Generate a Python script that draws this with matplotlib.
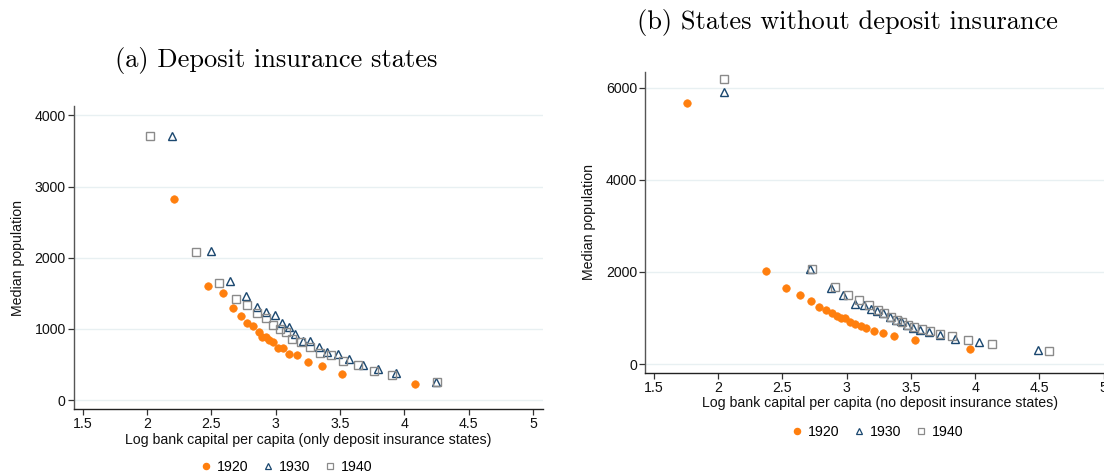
import matplotlib
matplotlib.use("Agg")
import matplotlib.pyplot as plt
from matplotlib.lines import Line2D

# ---------------- data ----------------
years = ["1920", "1930", "1940"]

# (a) Deposit insurance states
a_x_1920 = [2.209, 2.476, 2.592, 2.670, 2.730, 2.776, 2.825, 2.867, 2.895, 2.924,
            2.950, 2.981, 3.017, 3.053, 3.105, 3.167, 3.253, 3.359, 3.511, 4.083]
a_y_1920 = [2824, 1607, 1499, 1288, 1180, 1082, 1035, 960, 890, 885,
            843, 815, 726, 726, 651, 628, 529, 478, 361, 230]
a_x_1930 = [2.191, 2.494, 2.642, 2.766, 2.851, 2.926, 2.991, 3.045, 3.100, 3.152,
            3.208, 3.268, 3.333, 3.395, 3.483, 3.571, 3.677, 3.791, 3.936, 4.247]
a_y_1930 = [3714, 2089, 1672, 1461, 1312, 1232, 1194, 1087, 1021, 927,
            834, 834, 745, 679, 646, 571, 492, 436, 384, 258]
a_x_1940 = [2.026, 2.380, 2.559, 2.693, 2.779, 2.854, 2.921, 2.981, 3.030, 3.077,
            3.128, 3.193, 3.263, 3.341, 3.431, 3.524, 3.643, 3.765, 3.905, 4.257]
a_y_1940 = [3714, 2084, 1639, 1424, 1330, 1218, 1148, 1054, 993, 951,
            862, 810, 749, 665, 637, 548, 492, 407, 347, 258]

# (b) States without deposit insurance
b_x_1920 = [1.757, 2.371, 2.529, 2.640, 2.721, 2.788, 2.840, 2.884, 2.923, 2.959,
            2.990, 3.029, 3.065, 3.110, 3.151, 3.211, 3.285, 3.371, 3.530, 3.957]
b_y_1920 = [5666, 2014, 1659, 1493, 1363, 1246, 1174, 1102, 1050, 993,
            993, 920, 870, 833, 776, 724, 674, 609, 515, 333]
b_x_1930 = [2.050, 2.717, 2.879, 2.974, 3.068, 3.133, 3.190, 3.236, 3.283, 3.335,
            3.384, 3.423, 3.467, 3.519, 3.568, 3.641, 3.726, 3.841, 4.032, 4.491]
b_y_1930 = [5905, 2072, 1652, 1507, 1311, 1283, 1189, 1159, 1102, 1022,
            957, 928, 855, 783, 739, 703, 638, 551, 471, 297]
b_x_1940 = [2.047, 2.733, 2.910, 3.011, 3.096, 3.172, 3.242, 3.293, 3.345, 3.392,
            3.433, 3.478, 3.527, 3.586, 3.646, 3.729, 3.817, 3.942, 4.133, 4.576]
b_y_1940 = [6188, 2058, 1667, 1493, 1385, 1283, 1167, 1102, 1015, 957,
            913, 848, 804, 754, 717, 652, 602, 522, 442, 283]

x_ticks = [1.5, 2, 2.5, 3, 3.5, 4, 4.5, 5]
x_ticklabels = ["1.5", "2", "2.5", "3", "3.5", "4", "4.5", "5"]
a_y_ticks = [0, 1000, 2000, 3000, 4000]
b_y_ticks = [0, 2000, 4000, 6000]

title_a = "(a) Deposit insurance states"
title_b = "(b) States without deposit insurance"
xlabel_a = "Log bank capital per capita (only deposit insurance states)"
xlabel_b = "Log bank capital per capita (no deposit insurance states)"
ylabel = "Median population"

# ---------------- style ----------------
ORANGE = "#FF7F0E"
NAVY = "#1A476F"
GREY = "#8A8A8A"
GRID = "#E8F0F2"
SANS = "Liberation Sans"
FS = 10.2

fig = plt.figure(figsize=(11.04, 4.74), dpi=100)
W, H = 1104.0, 474.0


def ax_rect(x0, x1, ytop, ybot):
    return [x0 / W, 1 - ybot / H, (x1 - x0) / W, (ybot - ytop) / H]


axA = fig.add_axes(ax_rect(74, 543, 106, 409))
axB = fig.add_axes(ax_rect(645.3, 1113.7, 71.7, 372.7))


def style(ax, yticks, xlim, ylim, xlabel):
    ax.set_xlim(*xlim)
    ax.set_ylim(*ylim)
    ax.set_xticks(x_ticks)
    ax.set_xticklabels(x_ticklabels)
    ax.set_yticks(yticks)
    ax.set_yticklabels([str(t) for t in yticks])
    for s in ["top", "right"]:
        ax.spines[s].set_visible(False)
    ax.spines["left"].set_color("#555555")
    ax.spines["bottom"].set_color("#222222")
    ax.spines["left"].set_linewidth(1.0)
    ax.spines["bottom"].set_linewidth(1.0)
    ax.tick_params(axis="both", direction="out", length=4, width=0.9,
                   color="#333333", labelsize=FS, pad=2)
    for lab in ax.get_xticklabels() + ax.get_yticklabels():
        lab.set_fontfamily(SANS)
        lab.set_color("#111111")
    ax.yaxis.grid(True, color=GRID, linewidth=1.0)
    ax.set_axisbelow(True)
    ax.set_xlabel(xlabel, fontsize=FS, fontfamily=SANS, labelpad=1, color="#111111")
    ax.set_ylabel(ylabel, fontsize=FS, fontfamily=SANS, labelpad=7, color="#111111")


def scatter(ax, x20, y20, x30, y30, x40, y40):
    ax.plot(x20, y20, linestyle="none", marker="o", markersize=5.4,
            markerfacecolor=ORANGE, markeredgecolor=ORANGE, markeredgewidth=0.5,
            zorder=3)
    ax.plot(x30, y30, linestyle="none", marker="^", markersize=5.8,
            markerfacecolor="none", markeredgecolor=NAVY, markeredgewidth=1.0,
            zorder=3)
    ax.plot(x40, y40, linestyle="none", marker="s", markersize=5.2,
            markerfacecolor="none", markeredgecolor=GREY, markeredgewidth=1.0,
            zorder=3)


scatter(axA, a_x_1920, a_y_1920, a_x_1930, a_y_1930, a_x_1940, a_y_1940)
scatter(axB, b_x_1920, b_y_1920, b_x_1930, b_y_1930, b_x_1940, b_y_1940)

style(axA, a_y_ticks, (1.432, 5.077), (-126, 4131), xlabel_a)
style(axB, b_y_ticks, (1.435, 5.077), (-189, 6354), xlabel_b)

handles = [
    Line2D([], [], linestyle="none", marker="o", markersize=4.4,
           markerfacecolor=ORANGE, markeredgecolor=ORANGE),
    Line2D([], [], linestyle="none", marker="^", markersize=4.8,
           markerfacecolor="none", markeredgecolor=NAVY, markeredgewidth=0.9),
    Line2D([], [], linestyle="none", marker="s", markersize=4.4,
           markerfacecolor="none", markeredgecolor=GREY, markeredgewidth=0.9),
]


def legend(cx, cy):
    leg = fig.legend(handles, years, loc="center", ncol=3,
                     bbox_to_anchor=(cx / W, 1 - cy / H),
                     frameon=False, handlelength=0.6, handletextpad=0.45,
                     columnspacing=1.1, borderpad=0,
                     prop={"family": SANS, "size": FS})
    return leg


legend(287, 467)
legend(878, 432)

fig.text(276 / W, 1 - 60 / H, title_a, ha="center", va="center",
         fontfamily="cmr10", fontsize=19)
fig.text(847 / W, 1 - 22 / H, title_b, ha="center", va="center",
         fontfamily="cmr10", fontsize=19)

fig.savefig("out.png", dpi=100)
